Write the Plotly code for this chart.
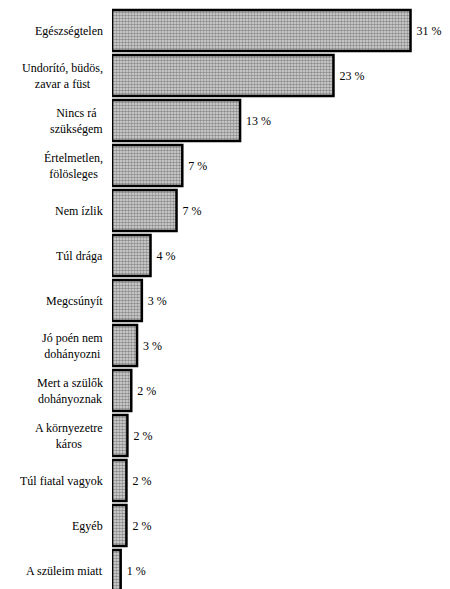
import plotly.graph_objects as go

categories = [
    "Egészségtelen",
    "Undorító, büdös,<br>zavar a füst",
    "Nincs rá<br>szükségem",
    "Értelmetlen,<br>fölösleges",
    "Nem ízlik",
    "Túl drága",
    "Megcsúnyít",
    "Jó poén nem<br>dohányozni",
    "Mert a szülők<br>dohányoznak",
    "A környezetre<br>káros",
    "Túl fiatal vagyok",
    "Egyéb",
    "A szüleim miatt",
]
values = [31.0, 23.0, 13.3, 7.3, 6.7, 4.0, 3.1, 2.6, 2.0, 1.6, 1.5, 1.5, 0.9]
pct_labels = ["31 %", "23 %", "13 %", "7 %", "7 %", "4 %", "3 %", "3 %",
              "2 %", "2 %", "2 %", "2 %", "1 %"]

serif = "Times New Roman, Liberation Serif, DejaVu Serif, serif"

fig = go.Figure()
fig.add_trace(go.Bar(
    x=values,
    y=list(range(len(categories))),
    orientation="h",
    text=pct_labels,
    texttemplate=" %{text}",
    textposition="outside",
    textfont=dict(family=serif, size=12, color="black"),
    cliponaxis=False,
    width=0.91,
    marker=dict(
        color="#d0d0d0",
        line=dict(color="black", width=2.5),
        pattern=dict(shape=".", fgcolor="#404040", bgcolor="#dadada",
                     size=3, solidity=0.55),
    ),
    hoverinfo="skip",
))

for i, cat in enumerate(categories):
    fig.add_annotation(
        x=0, xref="paper", y=i, yref="y",
        text=cat, showarrow=False,
        xanchor="right", yanchor="middle", align="center",
        xshift=-7,
        font=dict(family=serif, size=12, color="black"),
    )

fig.update_layout(
    width=442, height=581,
    margin=dict(l=104, r=0, t=0, b=0),
    paper_bgcolor="white", plot_bgcolor="white",
    showlegend=False,
    font=dict(family=serif),
    xaxis=dict(range=[0, 35.1], visible=False, fixedrange=True),
    yaxis=dict(range=[12.41, -0.5], visible=False, fixedrange=True),
)

fig.write_html("out.html")
